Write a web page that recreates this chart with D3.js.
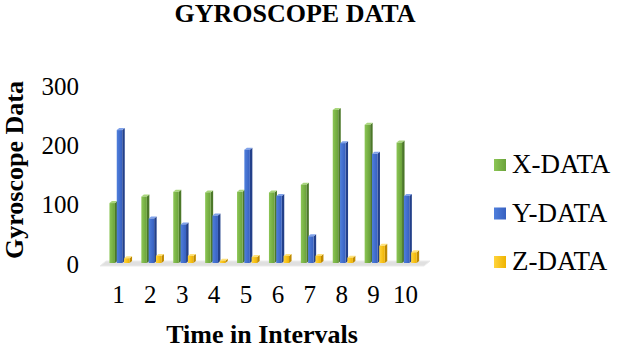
<!DOCTYPE html>
<html>
<head>
<meta charset="utf-8">
<script src="https://cdn.jsdelivr.net/npm/d3@7"></script>
<style>
  body { margin: 0; background: #fff; }
  text { font-family: "Liberation Serif", "Times New Roman", serif; fill: #000; }
</style>
</head>
<body>
<script>
const width = 618;
const height = 348;

// data
const intervals = [1, 2, 3, 4, 5, 6, 7, 8, 9, 10];
const xData = [101, 112, 120, 119, 120, 119, 132, 258, 233, 203];
const yData = [224, 75, 65, 80, 191, 113, 45, 202, 184, 113];
const zData = [8, 12, 12, 4, 10, 12, 12, 9, 29, 18];
const seriesNames = ["X-DATA", "Y-DATA", "Z-DATA"];
const yTicks = [0, 100, 200, 300];

const series = [
  {name: seriesNames[0], values: xData, front: ["#8cc655", "#6aa23a"], side: "#4c7829", top: "#a9d67c"},
  {name: seriesNames[1], values: yData, front: ["#4f7fdc", "#3760c0"], side: "#23408a", top: "#80a2ea"},
  {name: seriesNames[2], values: zData, front: ["#ffd43c", "#efb300"], side: "#bf8a00", top: "#ffe27a"}
];

var svg = d3.select("body").append("svg")
    .attr("width", width)
    .attr("height", height);

var defs = svg.append("defs");
series.forEach(function(s, i) {
  var g = defs.append("linearGradient").attr("id", "grad" + i)
      .attr("x1", "0").attr("x2", "1").attr("y1", "0").attr("y2", "0");
  g.append("stop").attr("offset", "0%").attr("stop-color", s.front[0]);
  g.append("stop").attr("offset", "100%").attr("stop-color", s.front[1]);
});

const xscale = d3.scaleBand().domain(intervals).range([102.45, 421.45]);
const yscale = d3.scaleLinear().domain([0, 300]).range([263, 85]);

// floor
svg.append("polygon")
    .attr("points", "100,266 424,266 430,261 106,261")
    .attr("fill", "#e0e0e0")
    .attr("stroke", "#ebebeb");

const w = 5.5, dx = 2.5, dy = 2, step = 7.3, off = 7;

intervals.forEach(function(t, gi) {
  series.forEach(function(s, si) {
    var x = xscale(t) + off + si * step;
    var y = yscale(s.values[gi]);
    var base = yscale(0);
    var g = svg.append("g");
    g.append("polygon")
        .attr("points", [[x + w, y], [x + w + dx, y - dy], [x + w + dx, base - dy], [x + w, base]].join(" "))
        .attr("fill", s.side);
    g.append("polygon")
        .attr("points", [[x, y], [x + dx, y - dy], [x + w + dx, y - dy], [x + w, y]].join(" "))
        .attr("fill", s.top);
    g.append("rect")
        .attr("x", x).attr("y", y)
        .attr("width", w).attr("height", base - y)
        .attr("fill", "url(#grad" + si + ")");
  });
});

// y axis labels
const yaxis = d3.axisLeft(yscale).tickValues(yTicks).tickSize(0).tickPadding(0);
const g_yaxis = svg.append("g")
    .attr("transform", "translate(79,1)")
    .call(yaxis);
g_yaxis.select(".domain").remove();
g_yaxis.selectAll("text")
    .attr("font-family", "Liberation Serif")
    .attr("font-size", 25)
    .attr("fill", "#000");

// x axis labels
const xaxis = d3.axisBottom(xscale).tickSize(0).tickPadding(0);
const g_xaxis = svg.append("g")
    .attr("transform", "translate(0,285)")
    .call(xaxis);
g_xaxis.select(".domain").remove();
g_xaxis.selectAll("text")
    .attr("font-family", "Liberation Serif")
    .attr("font-size", 25)
    .attr("fill", "#000");

// titles
svg.append("text")
    .attr("x", 295).attr("y", 22)
    .attr("text-anchor", "middle")
    .attr("font-size", 26).attr("font-weight", "bold")
    .text("GYROSCOPE DATA");

svg.append("text")
    .attr("x", 262).attr("y", 343)
    .attr("text-anchor", "middle")
    .attr("font-size", 26).attr("font-weight", "bold")
    .text("Time in Intervals");

svg.append("text")
    .attr("transform", "translate(23,170) rotate(-90)")
    .attr("text-anchor", "middle")
    .attr("font-size", 26).attr("font-weight", "bold")
    .text("Gyroscope Data");

// legend
const legend = svg.append("g").selectAll("g")
    .data(series)
  .enter().append("g")
    .attr("transform", (d, i) => `translate(494,${173 + i * 48.5})`);
legend.append("rect")
    .attr("x", 0).attr("y", -14)
    .attr("width", 12).attr("height", 12)
    .attr("fill", (d, i) => "url(#grad" + i + ")");
legend.append("text")
    .attr("x", 18).attr("y", 0)
    .attr("font-size", 27)
    .text(d => d.name);
</script>
</body>
</html>
